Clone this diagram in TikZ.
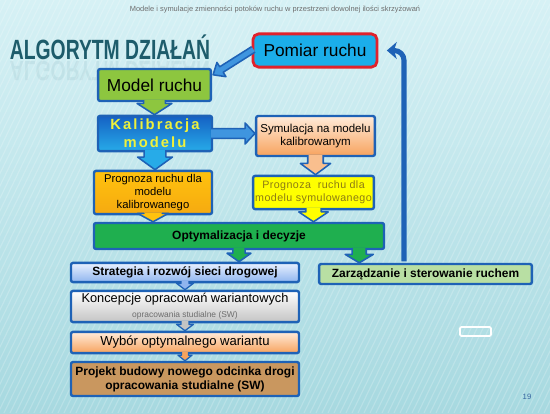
\documentclass[tikz,border=0pt]{standalone}
\usepackage{fontspec}
\setmainfont{Liberation Sans}
\usetikzlibrary{calc,arrows.meta}

\definecolor{bgtop}{HTML}{D6F1F5}
\definecolor{bgbot}{HTML}{A7D9E0}
\definecolor{frame}{HTML}{1E62B6}
\definecolor{titlec}{HTML}{1D5C6B}
\definecolor{pomred}{HTML}{E0222C}
\definecolor{pomfill}{HTML}{1BAEEA}
\definecolor{modgreen}{HTML}{8DC63F}
\definecolor{kaltop}{HTML}{1561C4}
\definecolor{kalbot}{HTML}{27ABE8}
\definecolor{kaltext}{HTML}{EEF13C}
\definecolor{peachtop}{HTML}{FFEBDA}
\definecolor{peachbot}{HTML}{F7A35E}
\definecolor{orangetop}{HTML}{FFC20E}
\definecolor{orangebot}{HTML}{F6AA10}
\definecolor{yel}{HTML}{FFFF00}
\definecolor{yeltext}{HTML}{8C7B14}
\definecolor{optgreen}{HTML}{1FAF4F}
\definecolor{strattop}{HTML}{E9F1FF}
\definecolor{stratbot}{HTML}{8FB5EF}
\definecolor{zarzgreen}{HTML}{B8DFA3}
\definecolor{koncbot}{HTML}{C4C4C4}
\definecolor{brown}{HTML}{C9975F}
\definecolor{headgray}{HTML}{6E6E6E}
\definecolor{lightblue}{HTML}{3F95DF}

\tikzset{
  box/.style={draw=frame, line width=1.7pt, rounded corners=1.5pt, align=center, inner sep=1pt},
  big/.style={font=\fontsize{12.3}{14}\selectfont},
  small/.style={font=\fontsize{8.2}{9.6}\selectfont},
  heavy/.style={font=\fontsize{8.5}{10}\selectfont\bfseries},
  fat/.style={draw=frame, line width=1.1pt, line join=round},
  back/.style={draw=frame, line width=3.6pt, rounded corners=7pt,
    -{Stealth[length=7pt, width=12pt, inset=2pt]}}
}

% fat arrow: [options]{fill}{from}{to}{half shaft}{half head}{head length}
\newcommand{\fatarrow}[7][]{%
  \coordinate (fa s) at ($(#3)!-1.5pt!(#4)$);
  \coordinate (fa n) at ($(#4)!#7!(#3)$);
  \filldraw[fat, fill=#2, #1] ($(fa s)!#5!90:(#4)$) -- ($(fa n)!#5!90:(#4)$)
    -- ($(fa n)!#6!90:(#4)$) -- (#4) -- ($(fa n)!#6!-90:(#4)$)
    -- ($(fa n)!#5!-90:(#4)$) -- ($(fa s)!#5!-90:(#4)$);}

\begin{document}
\begin{tikzpicture}[x=0.025cm, y=-0.025cm]
\useasboundingbox (0,0) rectangle (550,413);
% background
\fill[top color=bgtop, bottom color=bgbot] (0,0) rectangle (550,413);
\begin{scope}
\clip (0,0) rectangle (550,413);
\foreach \x in {-200,-194,...,550}
  \draw[white, opacity=0.2, line width=0.8pt] (\x,413) -- (\x+200,0);
\end{scope}
\draw[white, line width=1.2pt, rounded corners=1pt] (460,327) rectangle (491,336);

% header and title
\node[text=headgray, font=\fontsize{5.3}{6}\selectfont] at (275,10) (head)
  {Modele i symulacje zmienności potoków ruchu w przestrzeni dowolnej ilości skrzyżowań};
\node[text=frame!70!headgray, font=\fontsize{5.5}{6}\selectfont] at (527,397) (page) {19};
\node[text=titlec, font=\fontsize{19.8}{20}\selectfont\bfseries, xscale=0.695, anchor=base] at (110,60) (title) {ALGORYTM DZIAŁAŃ};
\node[text=titlec, font=\fontsize{19.8}{20}\selectfont\bfseries, xscale=0.695, yscale=-1, opacity=0.07, anchor=base] at (110,62) (mirror) {ALGORYTM DZIAŁAŃ};

% boxes
\node[box, big, draw=pomred, line width=2pt, rounded corners=4pt, fill=pomfill,
  minimum width=3.1cm, minimum height=0.83cm] at (315,50.5) (pomiar) {Pomiar ruchu};
\node[box, big, fill=modgreen, minimum width=2.82cm, minimum height=0.8cm] at (154.5,85) (model) {Model ruchu};
\node[box, top color=kaltop, bottom color=kalbot, minimum width=2.85cm, minimum height=0.88cm,
  font=\fontsize{10.5}{12.5}\selectfont\bfseries\addfontfeature{LetterSpace=14}, text=kaltext] at (155,133.5) (kalib) {Kalibracja\\modelu};
\node[box, small, top color=peachtop, bottom color=peachbot, minimum width=2.97cm, minimum height=1cm] at (315.5,136) (symul) {Symulacja na modelu\\kalibrowanym};
\node[box, small, top color=orangetop, bottom color=orangebot, minimum width=2.95cm, minimum height=1.08cm,
  font=\fontsize{8}{9.4}\selectfont] at (153,192.5) (progk) {Prognoza ruchu dla\\modelu\\kalibrowanego};
\node[box, fill=yel, text=yeltext, minimum width=3.02cm, minimum height=0.83cm,
  font=\fontsize{7.6}{9.4}\selectfont\addfontfeature{LetterSpace=4}] at (313.5,192.5) (progs) {Prognoza \ ruchu dla\\modelu symulowanego};
\node[box, heavy, fill=optgreen, minimum width=7.25cm, minimum height=0.65cm] at (239,236) (opt) {Optymalizacja i decyzje};
\node[box, heavy, top color=strattop, bottom color=stratbot, minimum width=5.7cm, minimum height=0.48cm] at (185,272.5) (strat) {Strategia i rozwój sieci drogowej};
\node[box, heavy, fill=zarzgreen, minimum width=5.32cm, minimum height=0.5cm] at (425.5,274) (zarz) {Zarządzanie i sterowanie ruchem};
\node[box, top color=white, bottom color=koncbot, minimum width=5.7cm, minimum height=0.78cm,
  font=\fontsize{9.1}{10.6}\selectfont] at (185,306.5) (konc) {Koncepcje opracowań wariantowych\\{\fontsize{6}{7}\selectfont\color{headgray}opracowania studialne (SW)}};
\node[box, top color=peachtop, bottom color=peachbot, minimum width=5.7cm, minimum height=0.53cm,
  font=\fontsize{9.3}{11}\selectfont] at (185,342.5) (wybor) {Wybór optymalnego wariantu};
\node[box, heavy, fill=brown, minimum width=5.7cm, minimum height=0.85cm] at (185,379) (proj) {Projekt budowy nowego odcinka drogi\\opracowania studialne (SW)};

% arrows
\coordinate (mtip) at ($(model.north east)+(1,7)$);
\fatarrow{lightblue}{pomiar.west}{mtip}{2.3pt}{6pt}{7pt}
\fatarrow{modgreen}{model.south}{model.south |- kalib.north}{7.8pt}{12.4pt}{8pt}
\fatarrow{kalbot}{kalib.south}{kalib.south |- progk.north}{7.8pt}{12.4pt}{9pt}
\fatarrow{lightblue}{kalib.east}{symul.west |- kalib.east}{3.5pt}{7.5pt}{7pt}
\fatarrow{peachbot!70}{symul.south}{symul.south |- progs.north}{5.5pt}{10.7pt}{8pt}
\fatarrow{yel}{progs.south}{progs.south |- opt.north}{5.5pt}{10.5pt}{7pt}
\fatarrow{orangetop}{progk.south}{progk.south |- opt.north}{6.5pt}{11pt}{6pt}
\fatarrow{optgreen}{opt.south}{opt.south |- strat.north}{4.3pt}{8.5pt}{6pt}
\coordinate (zdown) at ($(opt.south east)+(-26,0)$);
\fatarrow{optgreen}{zdown}{zdown |- zarz.north}{5pt}{10pt}{6pt}
\fatarrow[line width=0.9pt]{stratbot}{strat.south}{strat.south |- konc.north}{2.8pt}{6pt}{4.5pt}
\fatarrow[line width=0.9pt]{koncbot}{konc.south}{konc.south |- wybor.north}{2.8pt}{6pt}{4.5pt}
\fatarrow[line width=0.9pt]{peachbot}{wybor.south}{wybor.south |- proj.north}{2.5pt}{5pt}{4pt}

% feedback
\coordinate (up) at (404,0);
\draw[back] ([yshift=1pt]zarz.north -| up) |- ([xshift=6pt]pomiar.east);
\end{tikzpicture}
\end{document}
